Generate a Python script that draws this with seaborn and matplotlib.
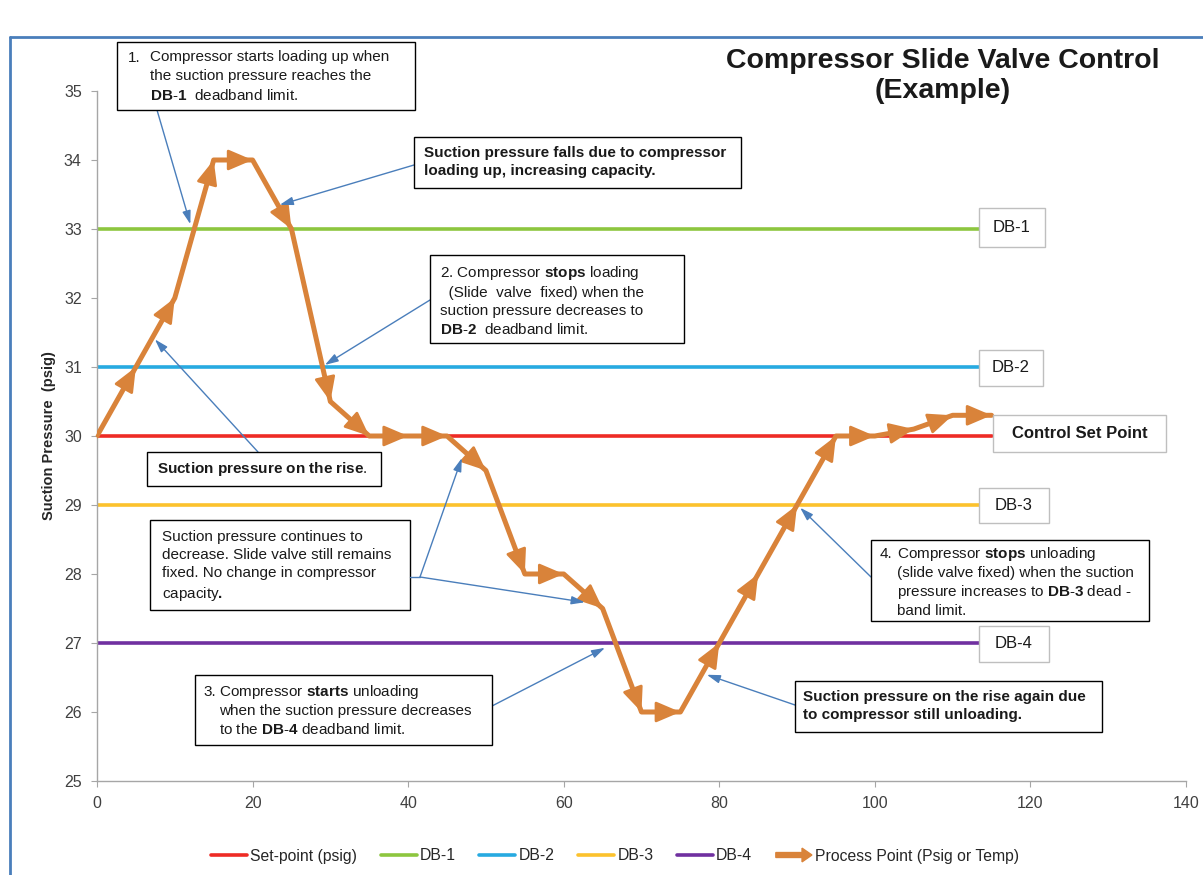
import numpy as np
import pandas as pd
import matplotlib
matplotlib.use("Agg")
import matplotlib.pyplot as plt
import seaborn as sns
from matplotlib.patches import Rectangle, FancyArrow
from matplotlib.lines import Line2D
from matplotlib.legend_handler import HandlerPatch

# ---------------- data ----------------
time = [0, 5, 10, 15, 20, 25, 30, 35, 40, 45, 50, 55, 60, 65, 70, 75, 80, 85, 90, 95, 100, 105, 110, 115]
pressure = [30, 31, 32, 34, 34, 33, 30.5, 30, 30, 30, 29.5, 28, 28, 27.5, 26, 26, 27, 28, 29, 30, 30, 30.1, 30.3, 30.3]

ref_names = ["Set-point (psig)", "DB-1", "DB-2", "DB-3", "DB-4"]
ref_values = [30, 33, 31, 29, 27]
ref_span = [0, 115]
ref_colors = ["#EE2B25", "#8DC63F", "#27AAE1", "#FCC22D", "#7030A0"]
process_name = "Process Point (Psig or Temp)"
process_color = "#D9833A"

x_ticks = [0, 20, 40, 60, 80, 100, 120, 140]
y_ticks = [25, 26, 27, 28, 29, 30, 31, 32, 33, 34, 35]

# ---------------- style ----------------
sns.set_style("white")
plt.rcParams["font.family"] = ["Liberation Sans", "DejaVu Sans"]
plt.rcParams["mathtext.fontset"] = "custom"
plt.rcParams["mathtext.rm"] = "Liberation Sans"
plt.rcParams["mathtext.bf"] = "Liberation Sans:bold"
plt.rcParams["mathtext.it"] = "Liberation Sans:italic"

W, H = 1203, 875
fig = plt.figure(figsize=(W / 100, H / 100), dpi=100)
ax = fig.add_axes([97 / W, 1 - 781 / H, (1186 - 97) / W, (781 - 91) / H])


def fx(px):
    return px / W


def fy(py):
    return 1 - py / H


# reference lines
ref_df = pd.DataFrame({
    "x": [v for _ in ref_names for v in ref_span],
    "y": [val for val in ref_values for _ in ref_span],
    "series": [n for n in ref_names for _ in ref_span],
})
sns.lineplot(data=ref_df, x="x", y="y", hue="series", hue_order=ref_names,
             palette=dict(zip(ref_names, ref_colors)), linewidth=2.6, ax=ax,
             legend=False, sort=False)

# process line
proc_df = pd.DataFrame({"t": time, "p": pressure})
sns.lineplot(data=proc_df, x="t", y="p", color=process_color, linewidth=3.6,
             ax=ax, legend=False, sort=False, zorder=5)
for i in range(1, len(time)):
    ax.annotate("", xy=(time[i], pressure[i]), xytext=(time[i - 1], pressure[i - 1]),
                arrowprops=dict(arrowstyle="-|>,head_length=0.75,head_width=0.32",
                                mutation_scale=20, lw=2.0, color=process_color,
                                shrinkA=0, shrinkB=0), zorder=6)

ax.set_xlim(0, 140)
ax.set_ylim(25, 35)
ax.set_xticks(x_ticks)
ax.set_yticks(y_ticks)
ax.set_xlabel("")
ax.set_ylabel("Suction Pressure  (psig)", fontsize=10.5, fontweight="bold", labelpad=6)
for s in ["top", "right"]:
    ax.spines[s].set_visible(False)
for s in ["left", "bottom"]:
    ax.spines[s].set_color("#A6A6A6")
    ax.spines[s].set_linewidth(1.0)
ax.tick_params(axis="both", which="major", length=4, color="#A6A6A6",
               labelcolor="#404040", labelsize=11.5, direction="out",
               left=True, bottom=True, pad=7)

# ---------------- frame & title ----------------
fig.add_artist(Line2D([fx(10), 1.0], [fy(37), fy(37)], color="#4A7EBB", lw=2,
                      transform=fig.transFigure))
fig.add_artist(Line2D([fx(10), fx(10)], [fy(37), 0], color="#4A7EBB", lw=2,
                      transform=fig.transFigure))
fig.text(fx(943), fy(76), "Compressor Slide Valve Control\n(Example)", ha="center",
         va="center", fontsize=20.5, fontweight="bold", linespacing=1.2,
         multialignment="center", color="#1a1a1a")


# ---------------- boxes ----------------
def box(x0, y0, x1, y1, ec="black", lw=1.0):
    r = Rectangle((fx(x0), fy(y1)), fx(x1) - fx(x0), fy(y0) - fy(y1),
                  transform=fig.transFigure, facecolor="white", edgecolor=ec,
                  linewidth=lw, zorder=2)
    fig.add_artist(r)


def btext(x, y, s, **kw):
    opts = dict(ha="left", va="top", fontsize=11, linespacing=1.36, zorder=3,
                color="#1a1a1a")
    opts.update(kw)
    fig.text(fx(x), fy(y), s, **opts)


def pointer(px, py, dx, dy):
    ax.annotate("", xy=(dx, dy), xycoords="data",
                xytext=(fx(px), fy(py)), textcoords="figure fraction",
                arrowprops=dict(arrowstyle="-|>,head_length=0.8,head_width=0.25",
                                mutation_scale=10, lw=1.0, color="#4A7EBB",
                                shrinkA=0, shrinkB=0), zorder=7,
                annotation_clip=False)


# label boxes
for (x0, y0, x1, y1, s, bold) in [
    (979, 208, 1045, 247, "DB-1", False),
    (979, 350, 1043, 386, "DB-2", False),
    (993, 415, 1166, 452, "Control Set Point", True),
    (979, 488, 1049, 523, "DB-3", False),
    (979, 626, 1049, 662, "DB-4", False),
]:
    box(x0, y0, x1, y1, ec="#BFBFBF")
    btext((x0 + x1) / 2, (y0 + y1) / 2, s, ha="center", va="center", fontsize=12,
          fontweight="bold" if bold else "normal")

# 1
box(117, 42, 415, 110)
btext(128, 51, "1.")
btext(150, 50, "Compressor starts loading up when\nthe suction pressure reaches the\n"
      r"$\mathbf{DB}$-$\mathbf{1}$  deadband limit.", linespacing=1.42)
pointer(157, 110, 12.0, 33.07)

# falls
box(414, 137, 741, 188)
btext(424, 146, "Suction pressure falls due to compressor\nloading up, increasing capacity.",
      fontweight="bold")
pointer(414, 165, 23.5, 33.35)

# 2
box(430, 255, 684, 343)
btext(440, 264, r"2. Compressor $\mathbf{stops}$ loading" "\n"
      "  (Slide  valve  fixed) when the\nsuction pressure decreases to\n"
      r"$\mathbf{DB}$-$\mathbf{2}$  deadband limit.")
pointer(430, 300, 29.3, 31.03)

# rise
box(147, 452, 381, 486)
btext(157, 469, r"$\mathbf{Suction\ pressure\ on\ the\ rise}$.", va="center")
pointer(258, 452, 7.45, 31.4)

# continues
box(150, 520, 410, 610)
btext(162, 530, "Suction pressure continues to\ndecrease. Slide valve still remains\n"
      "fixed. No change in compressor\ncapacity" r"$\mathbf{.}$")
fig.add_artist(Line2D([fx(410), fx(420)], [fy(577), fy(577)], color="#4A7EBB", lw=1.0,
                      transform=fig.transFigure))
pointer(420, 577, 46.9, 29.68)
pointer(420, 577, 62.7, 27.59)

# 3
box(195, 675, 492, 745)
btext(203, 685, "3.")
btext(219, 683, r"Compressor $\mathbf{starts}$ unloading" "\n"
      "when the suction pressure decreases\n"
      r"to the $\mathbf{DB}$-$\mathbf{4}$ deadband limit.", linespacing=1.3)
pointer(492, 706, 65.3, 26.93)

# rise again
box(795, 681, 1102, 732)
btext(803, 690, "Suction pressure on the rise again due\nto compressor still unloading.",
      fontweight="bold")
pointer(795, 705, 78.4, 26.54)

# 4
box(871, 540, 1149, 621)
btext(880, 547, "4.")
btext(897, 545, r"Compressor $\mathbf{stops}$ unloading" "\n"
      "(slide valve fixed) when the suction\n"
      r"pressure increases to $\mathbf{DB}$-$\mathbf{3}$ dead -" "\nband limit.",
      linespacing=1.26)
pointer(871, 577, 90.4, 28.96)


# ---------------- legend ----------------
def make_arrow(legend, orig_handle, xdescent, ydescent, width, height, fontsize):
    return FancyArrow(0, height / 2, width, 0, width=height * 0.45,
                      head_width=height * 1.25, head_length=height * 0.9,
                      length_includes_head=True, color=process_color, lw=0)


handles = [Line2D([], [], color=c, lw=2.6) for c in ref_colors]
arrow_handle = FancyArrow(0, 0, 1, 0, color=process_color)
handles.append(arrow_handle)
labels = ref_names + [process_name]
fig.legend(handles, labels, loc="center", bbox_to_anchor=(fx(615), fy(856)), ncol=6,
           frameon=False, fontsize=11.3, handlelength=2.3, handletextpad=0.2,
           columnspacing=1.5, handler_map={arrow_handle: HandlerPatch(patch_func=make_arrow)})

fig.savefig("out.png", dpi=100)
